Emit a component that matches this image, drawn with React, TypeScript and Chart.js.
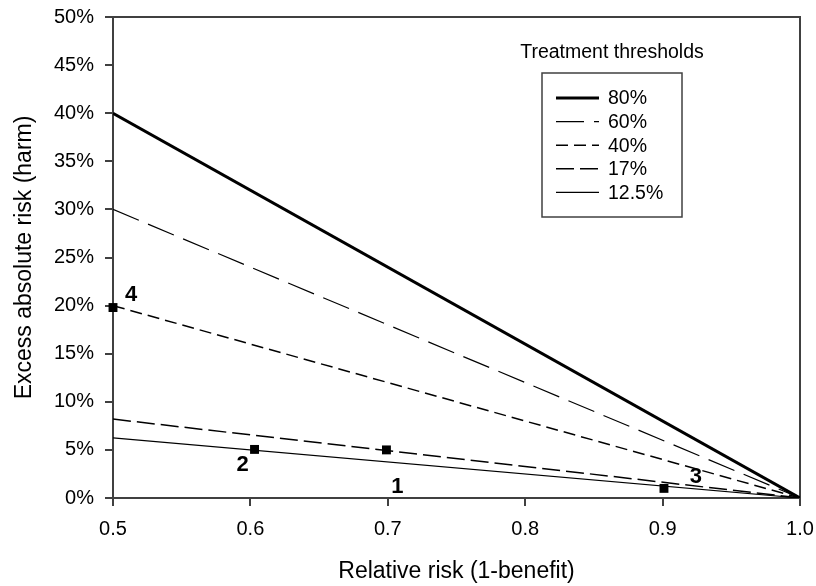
import React, { useEffect, useRef } from "react";
import { Chart, registerables } from "chart.js";

Chart.register(...registerables);

// ---- data ----
const relativeRisk = [0.5, 1.0];
const thresholdLabels = ["80%", "60%", "40%", "17%", "12.5%"];
const harm80 = [40, 0];
const harm60 = [30, 0];
const harm40 = [20, 0];
const harm17 = [8.2, 0];
const harm125 = [6.25, 0];
const markerRR = [0.5, 0.603, 0.699, 0.901];
const markerHarm = [19.8, 5.05, 5.0, 1.0];
const markerLabels = ["4", "2", "1", "3"];
const xTicks = [0.5, 0.6, 0.7, 0.8, 0.9, 1.0];
const yTicks = [0, 5, 10, 15, 20, 25, 30, 35, 40, 45, 50];

// ---- styles ----
const FONT = "'Liberation Sans', Arial, Helvetica, sans-serif";
const lineStyles = [
  { width: 3, dash: [] as number[] },
  { width: 1.2, dash: [28, 10] },
  { width: 1.5, dash: [12, 6] },
  { width: 1.5, dash: [18, 6] },
  { width: 1.2, dash: [] as number[] },
];
const labelOffsets = [
  [18, -13],
  [-12, 16],
  [11, 37],
  [32, -11],
];

const seriesValues = [harm80, harm60, harm40, harm17, harm125];

const framePlugin = {
  id: "frameAndLegend",
  beforeDatasetsDraw(chart: any) {
    const { ctx, chartArea } = chart;
    ctx.save();
    ctx.strokeStyle = "#404040";
    ctx.lineWidth = 2;
    ctx.setLineDash([]);
    ctx.strokeRect(chartArea.left, chartArea.top, chartArea.right - chartArea.left, chartArea.bottom - chartArea.top);
    ctx.restore();
  },
  afterDatasetsDraw(chart: any) {
    const { ctx } = chart;
    ctx.save();
    // marker labels
    const markerMeta = chart.getDatasetMeta(chart.data.datasets.length - 1);
    ctx.fillStyle = "#000";
    ctx.font = `bold 22px ${FONT}`;
    ctx.textAlign = "center";
    ctx.textBaseline = "middle";
    markerMeta.data.forEach((pt: any, i: number) => {
      ctx.fillText(markerLabels[i], pt.x + labelOffsets[i][0], pt.y + labelOffsets[i][1]);
    });

    // legend
    const boxL = 542, boxT = 73, boxW = 140, boxH = 144;
    ctx.font = `19.5px ${FONT}`;
    ctx.fillStyle = "#000";
    ctx.textAlign = "center";
    ctx.fillText("Treatment thresholds", boxL + boxW / 2, 53);
    ctx.strokeStyle = "#404040";
    ctx.lineWidth = 1.5;
    ctx.strokeRect(boxL, boxT, boxW, boxH);
    ctx.textAlign = "left";
    thresholdLabels.forEach((lab, i) => {
      const y = boxT + 25 + i * 23.6;
      ctx.strokeStyle = "#000";
      ctx.lineWidth = lineStyles[i].width;
      ctx.setLineDash(lineStyles[i].dash);
      ctx.beginPath();
      ctx.moveTo(boxL + 14, y);
      ctx.lineTo(boxL + 57, y);
      ctx.stroke();
      ctx.setLineDash([]);
      ctx.fillText(lab, boxL + 66, y + 1);
    });
    ctx.restore();
  },
};

export default function App() {
  const ref = useRef<HTMLCanvasElement>(null);
  useEffect(() => {
    if (!ref.current) return;
    const datasets: any[] = seriesValues.map((vals, i) => ({
      label: thresholdLabels[i],
      data: relativeRisk.map((x, j) => ({ x, y: vals[j] })),
      borderColor: "#000",
      borderWidth: lineStyles[i].width,
      borderDash: lineStyles[i].dash,
      pointRadius: 0,
      fill: false,
      showLine: true,
    }));
    datasets.push({
      label: "cases",
      data: markerRR.map((x, j) => ({ x, y: markerHarm[j] })),
      showLine: false,
      pointStyle: "rect",
      pointRadius: 6.3,
      backgroundColor: "#000",
      borderColor: "#000",
      borderWidth: 0,
      clip: false,
    });
    const chart = new Chart(ref.current, {
      type: "scatter",
      data: { datasets },
      options: {
        animation: false,
        responsive: true,
        maintainAspectRatio: false,
        layout: { padding: { top: 17, right: 16, left: 0, bottom: 0 } },
        plugins: { legend: { display: false }, tooltip: { enabled: false } },
        scales: {
          x: {
            type: "linear",
            min: 0.5,
            max: 1.0,
            afterBuildTicks: (s: any) => {
              s.ticks = xTicks.map((v) => ({ value: v }));
            },
            afterFit: (s: any) => {
              s.height = 88;
              s.paddingLeft = 0;
              s.paddingRight = 0;
            },
            ticks: {
              color: "#000",
              font: { family: FONT, size: 20 },
              padding: 11,
              callback: (v: any) => Number(v).toFixed(1),
            },
            grid: { drawOnChartArea: false, drawTicks: true, tickLength: 8, color: "#404040", lineWidth: 2 },
            border: { color: "#404040", width: 2 },
            title: {
              display: true,
              text: "Relative risk (1-benefit)",
              color: "#000",
              font: { family: FONT, size: 23 },
              padding: { top: 4, bottom: 1 },
            },
          },
          y: {
            type: "linear",
            min: 0,
            max: 50,
            afterBuildTicks: (s: any) => {
              s.ticks = yTicks.map((v) => ({ value: v }));
            },
            afterFit: (s: any) => {
              s.width = 113;
              s.paddingTop = 0;
              s.paddingBottom = 0;
            },
            ticks: {
              color: "#000",
              font: { family: FONT, size: 20 },
              padding: 11,
              callback: (v: any) => `${v}%`,
            },
            grid: { drawOnChartArea: false, drawTicks: true, tickLength: 8, color: "#404040", lineWidth: 2 },
            border: { color: "#404040", width: 2 },
            title: {
              display: true,
              text: "Excess absolute risk (harm)",
              color: "#000",
              font: { family: FONT, size: 23 },
              padding: { top: 11, bottom: 4 },
            },
          },
        },
      },
      plugins: [framePlugin],
    });
    return () => chart.destroy();
  }, []);
  return (
    <div style={{ position: "fixed", left: 0, top: 0, width: 816, height: 586 }}>
      <canvas ref={ref} />
    </div>
  );
}
